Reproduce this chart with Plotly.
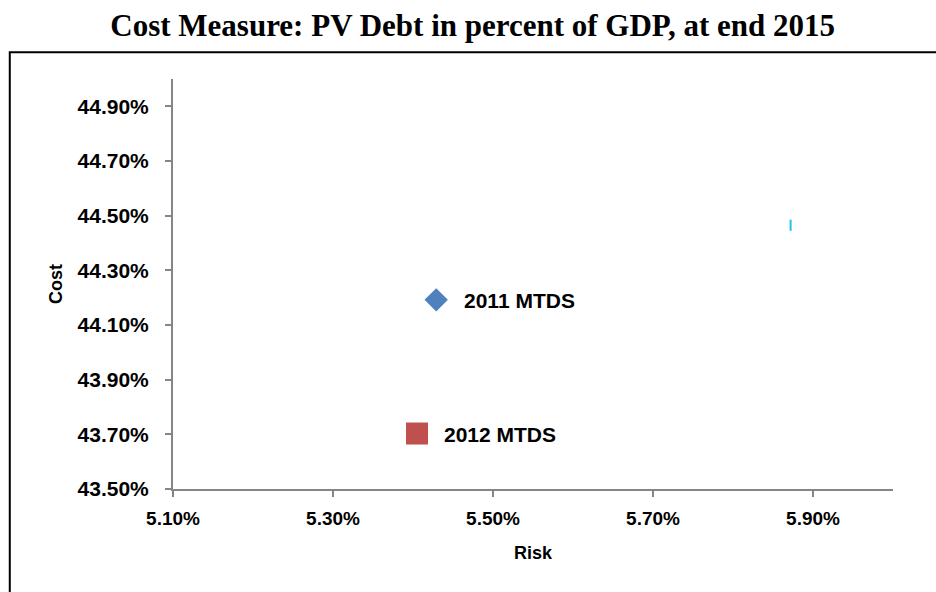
import plotly.graph_objects as go

# Risk / cost of each debt strategy (fractions, shown as percent)
strategies = ["2011 MTDS", "2012 MTDS"]
risk = [0.05429, 0.05405]
cost = [0.44192, 0.43703]
colors = ["#4F81BD", "#C0504D"]
symbols = ["diamond", "square"]
sizes = [18, 22]
label_shift = [26, 25]

# stray marker series
extra_risk = [0.05872]
extra_cost = [0.44465]

x_ticks = [0.051, 0.053, 0.055, 0.057, 0.059]
y_ticks = [0.435, 0.437, 0.439, 0.441, 0.443, 0.445, 0.447, 0.449]

sans = "Liberation Sans, Arial, sans-serif"

fig = go.Figure()
for name, x, y, c, s, sz in zip(strategies, risk, cost, colors, symbols, sizes):
    fig.add_trace(go.Scatter(
        x=[x], y=[y], mode="markers", name=name,
        marker=dict(symbol=s, size=sz, color=c, line=dict(width=0)),
        showlegend=False,
    ))
fig.add_trace(go.Scatter(
    x=extra_risk, y=extra_cost, mode="markers",
    marker=dict(symbol="line-ns-open", size=8, color="#1FC1F0",
                line=dict(width=2, color="#1FC1F0")),
    showlegend=False,
))

annotations = [
    dict(x=x, y=y, xref="x", yref="y", text="<b>%s</b>" % name,
         showarrow=False, xanchor="left", yanchor="middle",
         xshift=sh, yshift=-1,
         font=dict(family=sans, size=21, color="black"))
    for name, x, y, sh in zip(strategies, risk, cost, label_shift)
]

fig.update_layout(
    width=936, height=592,
    margin=dict(l=173, r=43, t=79, b=103),
    paper_bgcolor="white", plot_bgcolor="white",
    title=dict(text="<b>Cost Measure: PV Debt in percent of GDP, at end 2015</b>",
               x=0.505, xanchor="center", y=0.958, yanchor="middle",
               font=dict(family="Liberation Serif, Times New Roman, serif", size=31, color="black")),
    xaxis=dict(
        range=[0.051, 0.060], tickvals=x_ticks, tickformat=".2%",
        showgrid=False, zeroline=False,
        showline=True, linecolor="#868686", linewidth=2,
        ticks="outside", ticklen=6, tickwidth=2, tickcolor="#868686",
        ticklabelstandoff=5,
        tickfont=dict(family=sans, size=19, color="black", weight="bold"),
        title=dict(text="<b>Risk</b>", font=dict(family=sans, size=18, color="black"), standoff=19),
    ),
    yaxis=dict(
        range=[0.435, 0.450], tickvals=y_ticks, tickformat=".2%",
        showgrid=False, zeroline=False,
        showline=True, linecolor="#868686", linewidth=2,
        ticks="outside", ticklen=6, tickwidth=2, tickcolor="#868686",
        ticklabelstandoff=12,
        tickfont=dict(family=sans, size=21, color="black", weight="bold"),
        title=dict(text="<b>Cost</b>", font=dict(family=sans, size=18, color="black"), standoff=10),
    ),
    annotations=annotations,
    shapes=[dict(type="rect", xref="paper", yref="paper",
                 x0=-0.2267, x1=1.3, y0=-0.6, y1=1.0655,
                 line=dict(color="black", width=2), fillcolor="rgba(0,0,0,0)")],
)

fig.write_html("out.html")
